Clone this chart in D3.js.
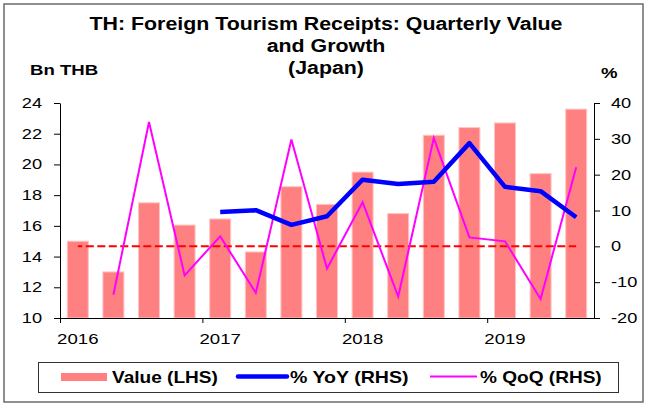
<!DOCTYPE html>
<html>
<head>
<meta charset="utf-8">
<script src="https://cdn.jsdelivr.net/npm/d3@7"></script>
<style>
  body { margin: 0; background: #fff; }
  text { font-family: 'Liberation Sans', Arial, sans-serif; fill: #000; }
</style>
</head>
<body>
<svg id="chart" width="648" height="404"></svg>
<script>
// quarterly data, Q1 2016 .. Q3 2019
const quarters = ['2016Q1', '2016Q2', '2016Q3', '2016Q4', '2017Q1', '2017Q2', '2017Q3', '2017Q4',
  '2018Q1', '2018Q2', '2018Q3', '2018Q4', '2019Q1', '2019Q2', '2019Q3']
const values = [15.0, 13.0, 17.5, 16.05, 16.45, 14.3, 18.55, 17.4, 19.5, 16.8, 21.9, 22.4, 22.7, 19.4, 23.6]
const yoy = [null, null, null, null, 9.6, 10.1, 6.0, 8.4, 18.6, 17.4, 18.0, 28.8, 16.6, 15.4, 8.1]
const qoq = [null, -13.5, 34.7, -8.1, 2.8, -13.0, 29.8, -6.2, 12.3, -14.0, 30.2, 2.5, 1.4, -14.7, 22.1]
const zeroLine = quarters.map(() => 0)
const years = ['2016', '2017', '2018', '2019']
const leftTicks = [10, 12, 14, 16, 18, 20, 22, 24]
const rightTicks = [-20, -10, 0, 10, 20, 30, 40]
const titleLines = ['TH: Foreign Tourism Receipts: Quarterly Value', 'and Growth', '(Japan)']

const svg = d3.select('#chart')
const plotL = 60, plotR = 594, plotT = 103, plotB = 318

// outer frame
svg.append('rect')
  .attr('x', 4).attr('y', 4).attr('width', 639).attr('height', 398)
  .attr('fill', 'none').attr('stroke', '#6b6b6b').attr('stroke-width', 1.5)

// text stretched horizontally like the original
function stext(g, x, y, str, opts) {
  const o = Object.assign({ size: 14, bold: false, anchor: 'start', sx: 1.2 }, opts)
  return g.append('text')
    .attr('transform', `translate(${x},${y}) scale(${o.sx},1)`)
    .attr('text-anchor', o.anchor)
    .attr('font-size', o.size)
    .attr('font-weight', o.bold ? 'bold' : 'normal')
    .text(str)
}

const x = d3.scaleBand().domain(quarters).range([plotL, plotR])
  .paddingInner(0.41).paddingOuter(0.205)
const xq = d3.scaleLinear().domain([0, quarters.length]).range([plotL, plotR])
const cx = (i) => xq(i + 0.5)
const yL = d3.scaleLinear().domain([10, 24]).range([plotB, plotT])
const yR = d3.scaleLinear().domain([-20, 40]).range([plotB, plotT])

// bars
svg.append('g').selectAll('rect')
  .data(values)
  .join('rect')
  .attr('x', (d, i) => x(quarters[i]))
  .attr('y', (d) => yL(d))
  .attr('width', x.bandwidth())
  .attr('height', (d) => yL(10) - yL(d))
  .attr('fill', '#ff8080')
  .attr('stroke', '#ffc4c4')
  .attr('stroke-width', 1)

// zero reference on RHS
svg.append('path')
  .datum(zeroLine)
  .attr('d', d3.line().x((d, i) => cx(i)).y((d) => yR(d)))
  .attr('fill', 'none')
  .attr('stroke', '#ff0000')
  .attr('stroke-width', 2)
  .attr('stroke-dasharray', '8,3.5')
  .attr('stroke-dashoffset', -8)

const lineR = d3.line()
  .defined((d) => d !== null)
  .x((d, i) => cx(i))
  .y((d) => yR(d))

svg.append('path')
  .datum(qoq)
  .attr('d', lineR)
  .attr('fill', 'none')
  .attr('stroke', '#ff00ff')
  .attr('stroke-width', 2)

svg.append('path')
  .datum(yoy)
  .attr('d', lineR)
  .attr('fill', 'none')
  .attr('stroke', '#0000ff')
  .attr('stroke-width', 4.5)
  .attr('stroke-linejoin', 'round')

// axes
const axL = svg.append('g').attr('transform', `translate(${plotL},0)`)
  .call(d3.axisLeft(yL).tickValues(leftTicks).tickSize(6).tickSizeOuter(0).tickFormat(''))
const axR = svg.append('g').attr('transform', `translate(${plotR},0)`)
  .call(d3.axisRight(yR).tickValues(rightTicks).tickSize(6).tickSizeOuter(0).tickFormat(''))
const axB = svg.append('g').attr('transform', `translate(0,${plotB})`)
  .call(d3.axisBottom(xq).tickValues([0, 4, 8, 12]).tickSize(5).tickSizeOuter(0).tickFormat(''))
;[axL, axR, axB].forEach((a) => {
  a.selectAll('path,line').attr('stroke', '#000').attr('stroke-width', 1)
})

leftTicks.forEach((t) => stext(svg, 42, yL(t) + 5, t, { anchor: 'end', sx: 1.3 }))
rightTicks.forEach((t) => stext(svg, 611, yR(t) + 5, t, { sx: 1.3 }))
years.forEach((yr, k) => stext(svg, cx(k * 4), 343.5, yr, { anchor: 'middle', sx: 1.33 }))

// titles
titleLines.forEach((t, k) => stext(svg, 326, 30 + k * 22, t, { size: 18.5, bold: true, anchor: 'middle', sx: 1.155 }))
stext(svg, 30, 75, 'Bn THB', { size: 15.5, bold: true, sx: 1.2 })
stext(svg, 601, 78, '%', { size: 15.5, bold: true, sx: 1.2 })

// legend
const lg = svg.append('g')
lg.append('rect')
  .attr('x', 38.5).attr('y', 362.5).attr('width', 580).attr('height', 30)
  .attr('fill', '#fff').attr('stroke', '#333').attr('stroke-width', 1)
lg.append('rect')
  .attr('x', 61).attr('y', 373).attr('width', 46).attr('height', 8)
  .attr('fill', '#ff8080')
stext(lg, 112, 382.5, 'Value (LHS)', { size: 16.3, bold: true, sx: 1.17 })
lg.append('line')
  .attr('x1', 238).attr('x2', 287).attr('y1', 376.5).attr('y2', 376.5)
  .attr('stroke', '#0000ff').attr('stroke-width', 4.5).attr('stroke-linecap', 'round')
stext(lg, 290, 382.5, '% YoY (RHS)', { size: 16.3, bold: true, sx: 1.2 })
lg.append('line')
  .attr('x1', 430).attr('x2', 477).attr('y1', 376.5).attr('y2', 376.5)
  .attr('stroke', '#ff00ff').attr('stroke-width', 2)
stext(lg, 480, 382.5, '% QoQ (RHS)', { size: 16.3, bold: true, sx: 1.17 })
</script>
</body>
</html>
